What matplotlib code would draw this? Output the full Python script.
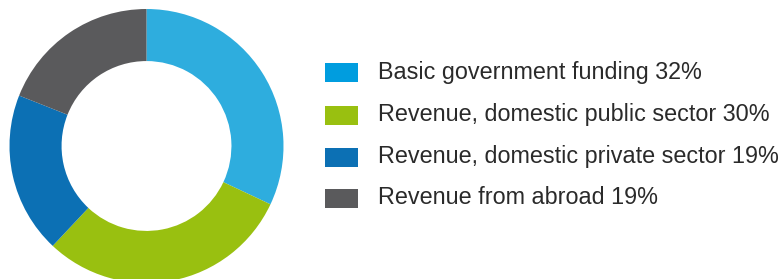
import matplotlib.pyplot as plt
from matplotlib.patches import Rectangle

# data
labels = ["Basic government funding", "Revenue, domestic public sector",
          "Revenue, domestic private sector", "Revenue from abroad"]
shares = [32, 30, 19, 19]
slice_colors = ["#2EADDE", "#99C010", "#0C70B4", "#5A5A5C"]
legend_colors = ["#009DDF", "#99C010", "#0C70B4", "#5A5A5C"]

W, H = 784, 279
fig = plt.figure(figsize=(W / 100, H / 100), dpi=100)

# donut: centre (146.5, 146) from top, radius 137 px
cx, cy, r = 146.5, H - 146, 137
ax = fig.add_axes([(cx - r) / W, (cy - r) / H, 2 * r / W, 2 * r / H])
ax.pie(shares, colors=slice_colors, startangle=90, counterclock=False,
       radius=1, wedgeprops=dict(width=0.38, edgecolor="none"))
ax.set_xlim(-1, 1)
ax.set_ylim(-1, 1)
ax.set_aspect("equal")
ax.axis("off")

# legend drawn by hand
row_y = [72, 115, 157, 198]
for lab, val, col, y in zip(labels, shares, legend_colors, row_y):
    fig.patches.append(Rectangle((325 / W, (H - y - 9.5) / H), 33 / W, 19 / H,
                                 transform=fig.transFigure, facecolor=col,
                                 edgecolor="none"))
    fig.text(378 / W, (H - y) / H, f"{lab} {val}%", fontsize=16.8,
             family="Liberation Sans", color="#2a2a2a",
             va="center", ha="left")

fig.savefig("out.png", dpi=100)
